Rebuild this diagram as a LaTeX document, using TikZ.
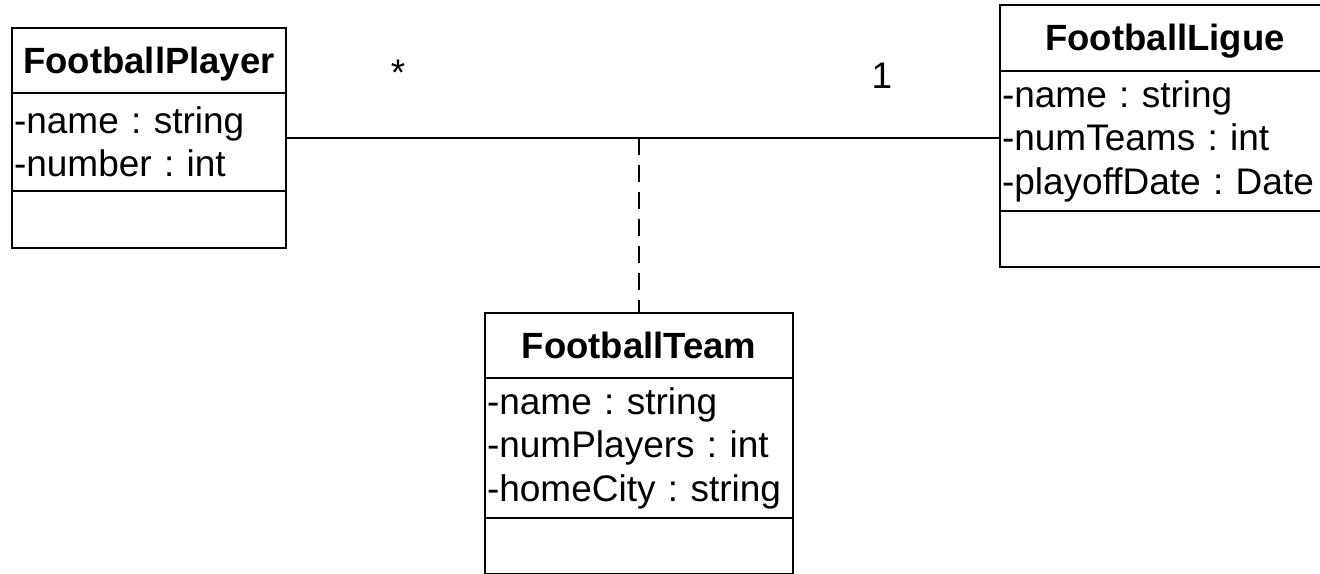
\documentclass[tikz,border=0pt]{standalone}
\usepackage{fontspec}
\setmainfont{Liberation Sans}
\frenchspacing
\usetikzlibrary{positioning}
\tikzstyle{box}=[draw,line width=2.8pt,outer sep=0pt]
\tikzstyle{hdr}=[box,anchor=north west,minimum height=65pt,inner sep=0pt,font=\fontsize{36.5}{44}\selectfont\bfseries,text height=25pt,text depth=0pt]
\tikzstyle{attr}=[box,align=left,inner xsep=2pt,inner ysep=0pt,font=\fontsize{37}{43.5}\selectfont]
\tikzstyle{ops}=[box,inner sep=0pt]
\tikzstyle{mult}=[anchor=base,inner sep=0pt,font=\fontsize{37}{44}\selectfont]
\tikzstyle{assoc}=[line width=2.2pt]

\begin{document}
\begin{tikzpicture}[x=1pt,y=1pt]
    \useasboundingbox (0,0) rectangle (1320,-573);
    \clip (0,0) rectangle (1320,-573);
    % classes
    \node[hdr,minimum width=274pt] (playerH) at (12,-28) {FootballPlayer};
    \node[attr,text width=270pt,minimum height=98pt,below=0pt of playerH] (playerA) {-name : string\\-number : int};
    \node[ops,minimum width=274pt,minimum height=57pt,below=0pt of playerA] (playerO) {};
    \node[hdr,minimum width=330pt,minimum height=66pt] (ligueH) at (1000,-5) {FootballLigue};
    \node[attr,text width=326pt,minimum height=140pt,below=0pt of ligueH] (ligueA) {-name : string\\-numTeams : int\\-playoffDate : Date};
    \node[ops,minimum width=330pt,minimum height=56pt,below=0pt of ligueA] (ligueO) {};
    \node[hdr,minimum width=308pt] (teamH) at (485,-313) {FootballTeam};
    \node[attr,text width=304pt,minimum height=140pt,below=0pt of teamH] (teamA) {-name : string\\-numPlayers : int\\-homeCity : string};
    \node[ops,minimum width=308pt,minimum height=56pt,below=0pt of teamA] (teamO) {};
    % association with its class
    \coordinate (pl) at ([yshift=4pt]playerA.east);
    \coordinate (lg) at ([yshift=3pt]ligueA.west);
    \draw[assoc] (pl) -- (lg);
    \coordinate (mid) at (teamH.north |- pl);
    \draw[assoc,dash pattern=on 17pt off 10pt] (mid) -- (teamH.north);
    \node[mult] (many) at (398,-85) {*};
    \node[mult] (one) at (882,-88) {1};
\end{tikzpicture}
\end{document}
